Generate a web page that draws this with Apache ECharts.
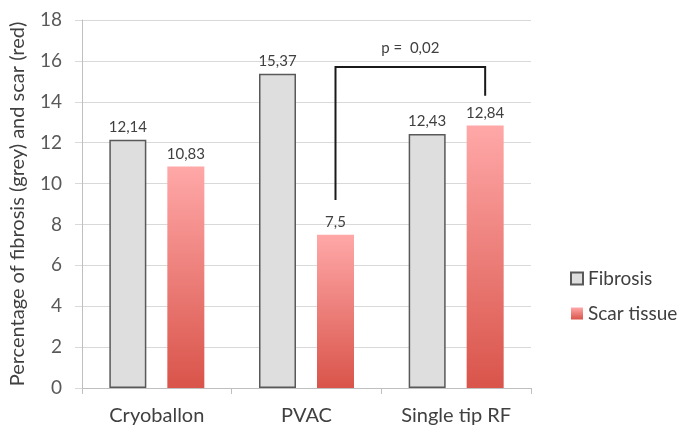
<!DOCTYPE html>
<html>
<head>
<meta charset="utf-8">
<script src="https://cdn.jsdelivr.net/npm/echarts@6/dist/echarts.min.js"></script>
<style>
html,body{margin:0;padding:0;background:#fff;}
#chart{width:685px;height:441px;}
</style>
</head>
<body>
<div id="chart"></div>
<script>
var categories = ['Cryoballon', 'PVAC', 'Single tip RF'];
var fibrosis = [12.14, 15.37, 12.43];
var scar = [10.83, 7.5, 12.84];
var yTicks = [0, 2, 4, 6, 8, 10, 12, 14, 16, 18];
// bracket: from PVAC scar bar to Single tip RF scar bar
var bracketCats = [1, 2];
var bracketValues = [9.2, 15.7, 14.3]; // left end, top, right end
var bracketLabel = 'p =  0,02';

var FONT = 'Lato, "Open Sans", sans-serif';
var barWidth = 37, barGapPx = 21;
var scarOffset = barWidth / 2 + barGapPx / 2;

var chart = echarts.init(document.getElementById('chart'), null, {renderer: 'canvas'});
function fmt(p) { return String(p.value).replace('.', ','); }

var option = {
  animation: false,
  textStyle: {fontFamily: FONT},
  grid: {left: 79, right: 154, top: 20, bottom: 53, containLabel: false},
  legend: {
    data: ['Fibrosis', 'Scar tissue'],
    orient: 'vertical',
    left: 565, top: 264,
    itemWidth: 12, itemHeight: 12, itemGap: 16,
    icon: 'rect',
    textStyle: {fontSize: 19, color: '#404040', fontFamily: FONT}
  },
  xAxis: {
    type: 'category',
    data: categories,
    axisLine: {lineStyle: {color: '#bfbfbf', width: 1}},
    axisTick: {show: true, length: 6, lineStyle: {color: '#bfbfbf'}},
    axisLabel: {fontSize: 20, color: '#404040', margin: 18, fontFamily: FONT}
  },
  yAxis: {
    type: 'value',
    min: yTicks[0], max: yTicks[yTicks.length - 1], interval: 2,
    name: 'Percentage of fibrosis (grey) and scar (red)',
    nameLocation: 'middle', nameRotate: 90, nameGap: 54,
    nameTextStyle: {fontSize: 20, color: '#404040', fontFamily: FONT},
    axisLine: {show: true, lineStyle: {color: '#bfbfbf'}},
    axisTick: {show: true, length: 7, lineStyle: {color: '#d9d9d9'}},
    axisLabel: {fontSize: 19, color: '#595959', margin: 20, fontFamily: FONT},
    splitLine: {lineStyle: {color: '#d9d9d9', width: 1}}
  },
  series: [
    {
      name: 'Fibrosis', type: 'bar', data: fibrosis,
      barWidth: barWidth, barGap: (barGapPx / barWidth * 100) + '%',
      itemStyle: {color: '#dedede', borderColor: '#595959', borderWidth: 1.5},
      label: {show: true, position: 'top', distance: 5, fontSize: 15, color: '#404040', formatter: fmt, fontFamily: FONT}
    },
    {
      name: 'Scar tissue', type: 'bar', data: scar,
      barWidth: barWidth,
      itemStyle: {
        color: new echarts.graphic.LinearGradient(0, 0, 0, 1, [
          {offset: 0, color: '#ffa8a8'},
          {offset: 1, color: '#d9544a'}
        ])
      },
      label: {show: true, position: 'top', distance: 5, fontSize: 15, color: '#404040', formatter: fmt, fontFamily: FONT}
    },
    {
      name: 'bracket', type: 'custom', silent: true, z: 10,
      data: [[bracketCats[0], bracketCats[1], bracketValues[0], bracketValues[1], bracketValues[2]]],
      renderItem: function (params, api) {
        var pL0 = api.coord([api.value(0), api.value(2)]);
        var pLT = api.coord([api.value(0), api.value(3)]);
        var pRB = api.coord([api.value(1), api.value(4)]);
        var xl = pL0[0] + scarOffset, xr = pRB[0] + scarOffset;
        var yt = pLT[1];
        return {
          type: 'group',
          children: [
            {type: 'polyline', shape: {points: [[xl, pL0[1]], [xl, yt], [xr, yt], [xr, pRB[1]]]},
             style: {stroke: '#1a1a1a', lineWidth: 2, fill: null}},
            {type: 'text', style: {text: bracketLabel, x: (xl + xr) / 2, y: yt - 11, align: 'center', verticalAlign: 'bottom',
             fontSize: 15, fill: '#404040', fontFamily: FONT}}
          ]
        };
      }
    }
  ]
};
chart.setOption(option);
</script>
</body>
</html>
